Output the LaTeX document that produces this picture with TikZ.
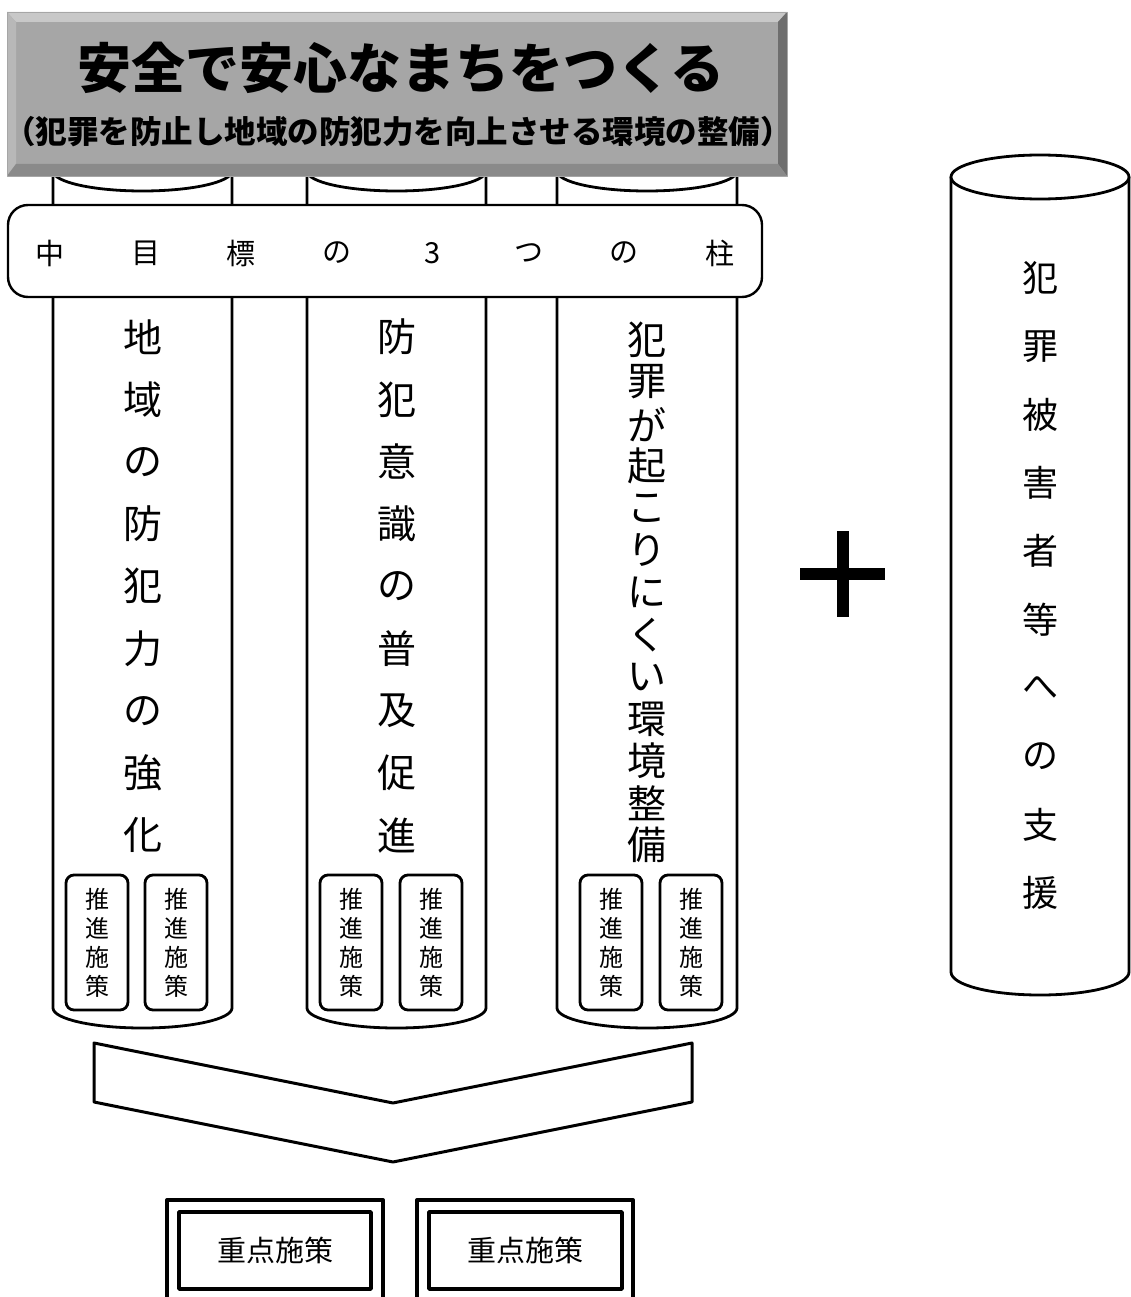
\documentclass[tikz,border=0pt]{standalone}
\usepackage{fontspec}
\newfontfamily\jp{Noto Sans CJK JP}
\definecolor{face}{HTML}{A6A6A6}
\definecolor{bevtop}{HTML}{C8C8C8}
\definecolor{bevleft}{HTML}{B8B8B8}
\definecolor{bevright}{HTML}{6E6E6E}
\definecolor{bevbot}{HTML}{8A8A8A}
\begin{document}
\begin{tikzpicture}[x=1pt,y=-1pt,line join=round,
  outl/.style={draw=black,line width=2.8pt},
  pbox/.style={draw=black,line width=2.8pt,fill=white,rounded corners=8pt,minimum width=62pt,minimum height=135pt,inner sep=0pt,align=center,font=\jp\fontsize{24}{29}\selectfont},
  bandtxt/.style={font=\jp\fontsize{29}{31}\selectfont,inner sep=0pt},
  coltxt/.style={font=\jp\fontsize{39}{41}\selectfont,inner sep=0pt},
  sidetxt/.style={font=\jp\fontsize{36}{38}\selectfont,inner sep=0pt},
  keytxt/.style={font=\jp\fontsize{29}{31}\selectfont,inner sep=0pt}]
\useasboundingbox (0,0) rectangle (1131,1297);

% --- three pillars ---
\foreach \L/\R/\n in {53/232/1,307/486/2,557/737/3}{
  \pgfmathsetmacro{\cx}{(\L+\R)/2}
  \pgfmathsetmacro{\rx}{(\R-\L)/2}
  \path[outl,fill=white] (\L,171) -- (\L,1008)
    .. controls (\L,1019) and ({\cx-0.5523*\rx},1028) .. (\cx,1028)
    .. controls ({\cx+0.5523*\rx},1028) and (\R,1019) .. (\R,1008)
    -- (\R,171);
  \draw[outl,fill=white] (\cx,171) ellipse [x radius=\rx, y radius=20];
}

% --- banner ---
\node[fill=face,minimum width=780pt,minimum height=164pt,inner sep=0pt] (banner) at (397,94) {};
\fill[bevtop] (7,12) -- (787,12) -- (778,22) -- (16,22) -- cycle;
\fill[bevleft] (7,12) -- (16,22) -- (16,164) -- (7,176) -- cycle;
\fill[bevright] (787,12) -- (787,176) -- (778,164) -- (778,22) -- cycle;
\fill[bevbot] (7,176) -- (16,164) -- (778,164) -- (787,176) -- cycle;
\draw[gray!70,line width=0.8pt] (7,12) rectangle (787,176);
\node[font=\jp\bfseries\fontsize{54}{56}\selectfont,inner sep=0pt] (title) at (401,68) {安全で安心なまちをつくる};
\node[font=\jp\bfseries\fontsize{31.5}{34}\selectfont,inner sep=0pt] (subtitle) at (398,132) {（犯罪を防止し地域の防犯力を向上させる環境の整備）};

% --- band ---
\node[draw=black,line width=2.4pt,fill=white,rounded corners=20pt,minimum width=754pt,minimum height=92pt,inner sep=0pt] (band) at (385,251) {};
\foreach \c [count=\i] in {中,目,標,の,3,つ,の,柱}{
  \node[bandtxt] (bc\i) at ({50+95.7*(\i-1)},253) {\c};
}

% --- pillar texts ---
\foreach \c [count=\i] in {地,域,の,防,犯,力,の,強,化}{
  \node[coltxt] (pa\i) at (143,{337+62.3*(\i-1)}) {\c};
}
\foreach \c [count=\i] in {防,犯,意,識,の,普,及,促,進}{
  \node[coltxt] (pb\i) at (397,{337+62.3*(\i-1)}) {\c};
}
\foreach \c [count=\i] in {犯,罪,が,起,こ,り,に,く,い,環,境,整,備}{
  \node[coltxt] (pc\i) at (647,{340+42.1*(\i-1)}) {\c};
}

% --- small boxes ---
\foreach \x/\n in {97/a1,176/a2,351/b1,431/b2,611/c1,691/c2}{
  \node[pbox] (box\n) at (\x,942.5) {推\\進\\施\\策};
}

% --- plus ---
\fill[black] (800,568) rectangle (885,580);
\fill[black] (837,531) rectangle (849,617);
\coordinate (plus) at (843,574);

% --- right cylinder ---
\path[outl,fill=white] (951,177) -- (951,972)
  .. controls (951,985) and ({1040-0.5523*89},995) .. (1040,995)
  .. controls ({1040+0.5523*89},995) and (1129,985) .. (1129,972)
  -- (1129,177);
\draw[outl,fill=white] (1040,177) ellipse [x radius=89, y radius=22];
\foreach \c [count=\i] in {犯,罪,被,害,者,等,へ,の,支,援}{
  \node[sidetxt] (rc\i) at (1040,{278+68.3*(\i-1)}) {\c};
}

% --- chevron ---
\draw[line width=3pt,fill=white] (94,1043) -- (393,1103) -- (692,1043) -- (692,1102) -- (393,1162) -- (94,1102) -- cycle;

% --- key measures ---
\draw[line width=4pt] (167,1300) -- (167,1200) -- (383,1200) -- (383,1300);
\draw[line width=4pt] (417,1300) -- (417,1200) -- (633,1200) -- (633,1300);
\node[draw=black,line width=3.5pt,minimum width=192pt,minimum height=77pt,inner sep=0pt,keytxt] (key1) at (275,1250.5) {重点施策};
\node[draw=black,line width=3.5pt,minimum width=193pt,minimum height=77pt,inner sep=0pt,keytxt] (key2) at (525.5,1250.5) {重点施策};
\end{tikzpicture}
\end{document}
